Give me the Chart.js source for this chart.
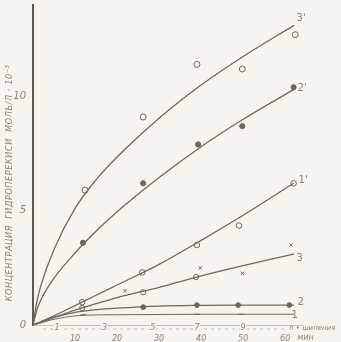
<!DOCTYPE html>
<html>
<head>
<meta charset="utf-8">
<script src="https://cdn.jsdelivr.net/npm/chart.js@4.4.1/dist/chart.umd.min.js"></script>
<style>
    html, body { margin: 0; padding: 0; background: #f6f4ee; }
    #wrap { width: 341px; height: 342px; position: relative; }
</style>
</head>
<body>
<div id="wrap"><canvas id="chart"></canvas></div>
<script>
// time, min (sample points along the drawn curves)
const CURVE_T = [0, 1, 2, 5, 10, 15, 20, 30, 40, 50, 62];

// hydroperoxide concentration, mol/l * 10^-3
const CURVE_3P = [0, 1.1, 1.8, 3.3, 5.1, 6.35, 7.35, 9.05, 10.5, 11.75, 13.1];
const CURVE_2P = [0, 0.7, 1.15, 2.05, 3.15, 4.1, 4.95, 6.45, 7.8, 9.0, 10.3];
const CURVE_1P = [0, 0.08, 0.16, 0.4, 0.85, 1.3, 1.75, 2.65, 3.7, 4.8, 6.2];
const CURVE_3 = [0, 0.07, 0.14, 0.33, 0.65, 0.93, 1.2, 1.65, 2.15, 2.6, 3.1];
const CURVE_2 = [0, 0.06, 0.12, 0.33, 0.55, 0.67, 0.74, 0.83, 0.86, 0.87, 0.87];
const CURVE_1 = [0, 0.05, 0.1, 0.25, 0.4, 0.44, 0.45, 0.46, 0.47, 0.47, 0.47];
const CURVE_NAMES = ["3'", "2'", "1'", '3', '2', '1'];

// measured points [min, value]
const PTS_3P = [[12.4, 5.9], [26.2, 9.1], [39, 11.4], [49.8, 11.2], [62.4, 12.7]];
const PTS_2P = [[11.9, 3.6], [26.2, 6.2], [39.3, 7.9], [49.8, 8.7], [62, 10.4]];
const PTS_1P = [[11.7, 1.0], [26, 2.3], [39, 3.5], [49, 4.35], [62, 6.2]];
const PTS_3 = [[11.7, 0.74], [26.2, 1.43], [38.8, 2.1]];
const PTS_3X = [[21.9, 1.5], [39.8, 2.5], [49.8, 2.26], [61.4, 3.5]];
const PTS_2 = [[26.2, 0.78], [39, 0.87], [48.8, 0.87], [61, 0.87]];
const PTS_1 = [[12, 0.45], [39, 0.47], [49.5, 0.47]];

// axis ticks
const X_TICKS = [10, 20, 30, 40, 50, 60];
const Y_TICKS = [0, 5, 10];
const N_LABELS = ['1', '3', '5', '7', '9'];
const N_AT = [5.7, 17, 28.5, 39, 50];   // where the n marks sit on the time axis
const Y_TITLE = 'КОНЦЕНТРАЦИЯ  ГИДРОПЕРЕКИСИ  МОЛЬ/Л · 10⁻³';
const N_TITLE = 'n • шипения';
const X_UNIT = 'мин';

const INK = '#6f695d';
const TEXT = '#8a8478';
const PAPER = '#f6f4ee';

function curve(values, width) {
    return {
        type: 'line',
        data: CURVE_T.map((t, i) => ({ x: t, y: values[i] })),
        borderColor: INK,
        borderWidth: width || 1.3,
        pointRadius: 0,
        cubicInterpolationMode: 'monotone',
        fill: false
    };
}

function marks(pts, style, fill, radius) {
    return {
        type: 'scatter',
        data: pts.map(p => ({ x: p[0], y: p[1] })),
        pointStyle: style,
        pointRadius: radius || 2.6,
        pointBackgroundColor: fill,
        pointBorderColor: INK,
        pointBorderWidth: 1,
        showLine: false
    };
}

const curves = [CURVE_3P, CURVE_2P, CURVE_1P, CURVE_3, CURVE_2, CURVE_1];

const labelOffsets = [[3, -7], [4, -1], [5, -3], [3, 4], [4, -3], [-2, 1]];

const annotate = {
    id: 'annotate',
    afterDraw(chart) {
        const c = chart.ctx;
        const xs = chart.scales.x;
        const ys = chart.scales.y;
        const area = chart.chartArea;
        c.save();
        c.fillStyle = TEXT;
        // curve names at the curve ends
        c.font = '10px "DejaVu Sans"';
        c.textAlign = 'left';
        c.textBaseline = 'middle';
        curves.forEach((vals, i) => {
            const x = xs.getPixelForValue(CURVE_T[CURVE_T.length - 1]);
            const y = ys.getPixelForValue(vals[vals.length - 1]);
            c.fillText(CURVE_NAMES[i], x + labelOffsets[i][0], y + labelOffsets[i][1]);
        });
        // n scale under the time axis
        c.strokeStyle = '#b9b4a8';
        c.lineWidth = 0.8;
        c.setLineDash([3, 4]);
        c.beginPath();
        c.moveTo(area.left + 10, area.bottom + 4);
        c.lineTo(xs.getPixelForValue(60), area.bottom + 4);
        c.stroke();
        c.setLineDash([]);
        c.font = 'italic 8px "DejaVu Sans"';
        c.textAlign = 'center';
        N_LABELS.forEach((lab, i) => {
            const x = xs.getPixelForValue(N_AT[i]);
            c.fillStyle = PAPER;
            c.fillRect(x - 3, area.bottom, 6, 8);
            c.fillStyle = TEXT;
            c.fillText(lab, x, area.bottom + 3);
        });
        c.textAlign = 'left';
        c.font = 'italic 7px "DejaVu Sans"';
        c.fillText(N_TITLE, xs.getPixelForValue(60) + 4, area.bottom + 3);
        c.font = 'italic 8px "DejaVu Sans"';
        c.fillText(X_UNIT, xs.getPixelForValue(60) + 12, area.bottom + 13);
        // y axis title
        c.translate(10, 183);
        c.rotate(-Math.PI / 2);
        c.textAlign = 'center';
        c.letterSpacing = '0.6px';
        c.font = 'italic 9px "Liberation Sans Narrow", "DejaVu Sans Condensed", sans-serif';
        c.fillText(Y_TITLE, 0, 0);
        c.restore();
    }
};

new Chart(document.getElementById('chart'), {
    data: {
        datasets: [
            curve(CURVE_3P), curve(CURVE_2P), curve(CURVE_1P),
            curve(CURVE_3), curve(CURVE_2), curve(CURVE_1, 1),
            marks(PTS_3P, 'circle', PAPER, 3),
            marks(PTS_2P, 'circle', INK, 2.6),
            marks(PTS_1P, 'circle', PAPER, 2.8),
            marks(PTS_3, 'circle', PAPER, 2.6),
            marks(PTS_3X, 'crossRot', PAPER, 2.4),
            marks(PTS_2, 'circle', INK, 2.4),
            marks(PTS_1, 'line', INK, 3)
        ]
    },
    options: {
        responsive: true,
        maintainAspectRatio: false,
        animation: false,
        layout: { padding: { top: 3, right: 39, left: 0, bottom: 0 } },
        plugins: { legend: { display: false }, tooltip: { enabled: false } },
        elements: { line: { borderCapStyle: 'round' } },
        scales: {
            x: {
                type: 'linear',
                min: 0,
                max: 64,
                afterFit: s => { s.height = 17; },
                afterBuildTicks: s => { s.ticks = X_TICKS.map(v => ({ value: v })); },
                grid: { display: false, drawTicks: false },
                border: { display: true, color: '#c9c4b8', width: 1 },
                ticks: {
                    padding: 9,
                    color: TEXT,
                    font: { size: 8, style: 'italic', family: 'DejaVu Sans' },
                    maxRotation: 0
                }
            },
            y: {
                type: 'linear',
                min: 0,
                max: 14,
                afterFit: s => { s.width = 33; s.paddingTop = 0; s.paddingBottom = 0; },
                afterBuildTicks: s => { s.ticks = Y_TICKS.map(v => ({ value: v })); },
                grid: { display: false, drawTicks: false },
                border: { display: true, color: '#5f594e', width: 2 },
                ticks: {
                    padding: 7,
                    color: TEXT,
                    font: { size: 10, style: 'italic', family: 'DejaVu Sans' }
                }
            }
        }
    },
    plugins: [annotate]
});
</script>
</body>
</html>
